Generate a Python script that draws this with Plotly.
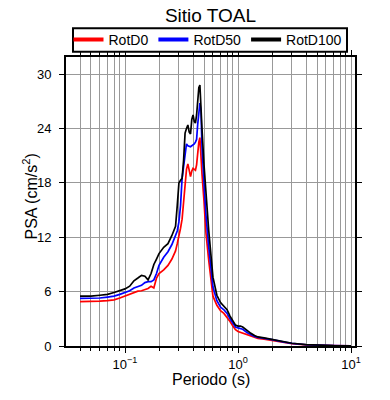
import plotly.graph_objects as go

periods = [0.04, 0.05, 0.06, 0.07, 0.08, 0.09,
           0.10, 0.11, 0.12, 0.13, 0.14, 0.15, 0.16, 0.17, 0.18, 0.19, 0.20,
           0.22, 0.24, 0.26, 0.28,
           0.29, 0.30, 0.31, 0.32, 0.33, 0.34, 0.35, 0.36, 0.37, 0.38,
           0.39, 0.40, 0.41, 0.42, 0.43, 0.44, 0.45, 0.46, 0.47, 0.48,
           0.50, 0.52, 0.55, 0.60, 0.65, 0.70, 0.75, 0.80, 0.85, 0.90, 0.95,
           1.0, 1.05, 1.1, 1.2, 1.3, 1.4, 1.5, 1.7,
           2.0, 2.5, 3.0, 4.0, 5.0, 7.0, 10.0]

rotd0 = [4.9, 4.9, 4.95, 5.0, 5.1, 5.3,
         5.5, 5.7, 5.9, 6.05, 6.1, 6.25, 6.35, 6.6, 6.4, 7.5, 8.0,
         8.4, 8.9, 9.6, 10.5,
         11.3, 12.0, 13.0, 14.0, 16.0, 17.5, 19.5, 20.1, 19.2, 18.7,
         19.3, 19.6, 19.5, 19.4, 20.0, 21.5, 22.5, 23.0, 21.5, 19.0,
         16.0, 12.5, 9.5, 5.5, 4.5, 3.9, 3.6, 3.2, 2.7, 2.2, 1.8,
         1.6, 1.5, 1.4, 1.25, 1.1, 0.95, 0.85, 0.75,
         0.6, 0.4, 0.25, 0.12, 0.07, 0.05, 0.03]

rotd50 = [5.25, 5.25, 5.3, 5.4, 5.5, 5.7,
          5.95, 6.1, 6.4, 6.6, 6.7, 7.0, 7.1, 7.1, 7.3, 8.0, 8.9,
          9.8, 10.4, 11.2, 12.1,
          12.7, 13.7, 15.5, 18.5, 20.0, 21.5, 22.3, 22.1, 22.0, 22.0,
          22.1, 22.2, 22.3, 22.5, 22.8, 24.5, 26.0, 26.8, 26.0, 22.0,
          18.0, 14.5, 11.0, 6.5, 5.0, 4.3, 4.0, 3.6, 3.0, 2.5, 2.1,
          2.0, 1.95, 1.85, 1.5, 1.25, 1.05, 0.95, 0.85,
          0.7, 0.45, 0.28, 0.14, 0.08, 0.05, 0.03]

rotd100 = [5.5, 5.5, 5.6, 5.7, 5.9, 6.1,
           6.3, 6.6, 7.2, 7.5, 7.8, 7.7, 7.3, 8.0, 9.0, 9.6, 10.2,
           10.9, 11.3, 12.2, 13.2,
           15.5, 18.0, 18.3, 18.5, 20.5, 23.5, 24.0, 24.4, 23.6, 23.4,
           25.0, 25.5, 24.8, 24.6, 25.5, 27.5, 28.5, 28.8, 27.0, 24.0,
           20.0, 16.5, 12.8, 7.6, 5.6, 4.8, 4.4, 4.0, 3.3, 2.7, 2.3,
           2.2, 2.2, 2.1, 1.7, 1.4, 1.15, 1.0, 0.9,
           0.75, 0.5, 0.3, 0.15, 0.08, 0.05, 0.03]

series_names = ["RotD0", "RotD50", "RotD100"]
series_values = [rotd0, rotd50, rotd100]
series_colors = ["#ff0000", "#0000ff", "#000000"]

x_tickvals = [0.1, 1, 10]
x_ticktext = ["10<sup>\u22121</sup>", "10<sup>0</sup>", "10<sup>1</sup>"]
y_tickvals = [0, 6, 12, 18, 24, 30]

FONT = "Liberation Sans, Arial, sans-serif"

fig = go.Figure()
for name, vals, col in zip(series_names, series_values, series_colors):
    fig.add_trace(go.Scatter(x=periods, y=vals, mode="lines", name=name,
                             line=dict(color=col, width=1.7), showlegend=False))
# legend entries with thicker sample lines
for name, col in zip(series_names, series_colors):
    fig.add_trace(go.Scatter(x=[None], y=[None], mode="lines", name=name,
                             line=dict(color=col, width=4), showlegend=True))

PLOT_L, PLOT_T, PLOT_W, PLOT_H = 66, 57, 289, 289


def px_x(px):
    return (px - PLOT_L) / PLOT_W


def px_y(py):
    return (PLOT_T + PLOT_H - py) / PLOT_H


fig.update_layout(
    width=390, height=400,
    margin=dict(l=66, r=35, t=57, b=54, autoexpand=False),
    paper_bgcolor="white", plot_bgcolor="white",
    font=dict(family=FONT, size=13, color="black"),
    title=dict(text="Sitio TOAL", x=0.5, xref="paper", xanchor="center",
               y=1 - 15 / 400, yref="container", yanchor="middle",
               font=dict(size=19, family=FONT, color="black")),
    legend=dict(orientation="h", x=px_x(208), xanchor="center",
                y=px_y(40), yanchor="middle",
                borderwidth=0, bgcolor="rgba(0,0,0,0)",
                font=dict(size=14, family=FONT), itemwidth=30,
                tracegroupgap=0),
    showlegend=True,
    shapes=[
        dict(type="rect", xref="paper", yref="paper",
             x0=px_x(73), x1=px_x(347), y0=px_y(51.7), y1=px_y(28.3),
             line=dict(color="black", width=2), fillcolor="white", layer="above"),
    ],
    annotations=[
        dict(text="Periodo (s)", x=0.5, xref="paper", xanchor="center",
             y=px_y(379), yref="paper", yanchor="middle",
             showarrow=False, font=dict(size=16, family=FONT, color="black")),
        dict(text="PSA (cm/s<sup>2</sup>)", textangle=-90,
             x=px_x(30), xref="paper", xanchor="center",
             y=px_y(196.5), yref="paper", yanchor="middle",
             showarrow=False, font=dict(size=16, family=FONT, color="black")),
    ],
)

fig.update_xaxes(
    type="log", range=[-1.522, 1.035],
    tickvals=x_tickvals, ticktext=x_ticktext,
    ticks="outside", ticklen=5, tickwidth=1, tickcolor="black",
    showline=True, linecolor="black", linewidth=2, mirror="ticks",
    showgrid=True, gridcolor="#999999", gridwidth=1,
    minor=dict(dtick="D1", ticks="outside", ticklen=3, tickcolor="black",
               showgrid=True, gridcolor="#999999", gridwidth=1),
    zeroline=False,
    automargin=False,
)
fig.update_yaxes(
    range=[0, 31.9], tickvals=y_tickvals,
    ticks="outside", ticklen=5, tickwidth=1, tickcolor="black",
    ticklabelstandoff=5,
    showline=True, linecolor="black", linewidth=2, mirror="ticks",
    showgrid=True, gridcolor="#999999", gridwidth=1,
    zeroline=False,
    automargin=False,
)

fig.write_html("out.html", config={"displayModeBar": False},
               post_script="document.body.style.margin='0';document.body.style.padding='0';")
